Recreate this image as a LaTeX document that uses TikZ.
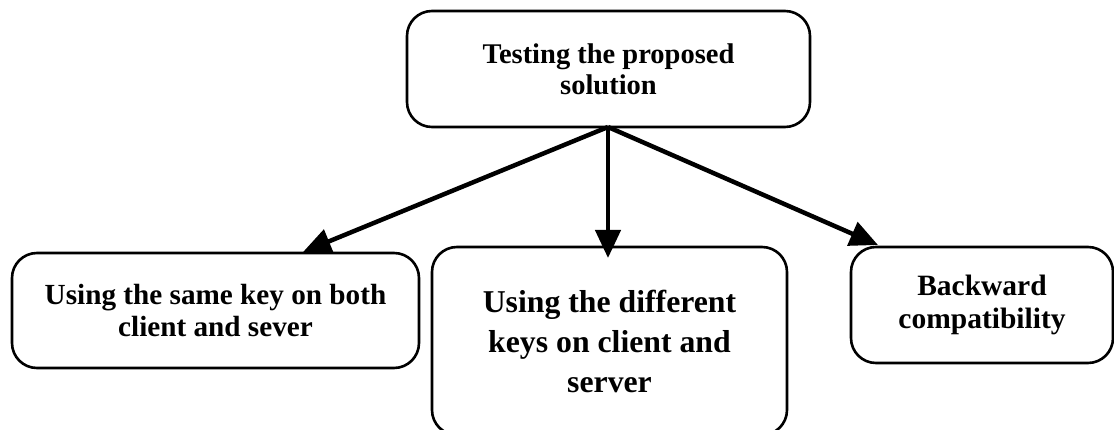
\documentclass[tikz,border=0pt]{standalone}
\usepackage{fontspec}
\setmainfont{Liberation Serif}
\usetikzlibrary{arrows.meta}
\tikzset{
  box/.style={draw=black, line width=2.6pt, rounded corners=25pt, fill=white,
              align=center, inner sep=0pt, font=\bfseries},
  link/.style={draw=black, line width=4.5pt,
               -{Triangle[length=28pt,width=25pt]}, shorten >=0pt}
}
\begin{document}
\begin{tikzpicture}[x=1pt,y=-1pt]
  \useasboundingbox (0,0) rectangle (1114,430);
  % root of the tree
  \node[box, minimum width=403pt, minimum height=116pt,
        font=\bfseries\fontsize{28.5}{31}\selectfont]
    (root) at (608.5,69) {Testing the proposed\\solution};
  % the three test branches
  \node[box, minimum width=407pt, minimum height=115pt,
        font=\bfseries\fontsize{29.2}{32}\selectfont]
    (same) at (215.5,310.5) {Using the same key on both\\client and sever};
  \node[box, minimum width=355pt, minimum height=188pt,
        font=\bfseries\fontsize{31.75}{40}\selectfont]
    (diff) at (609.5,341) {Using the different\\keys on client and\\server};
  \node[box, minimum width=262pt, minimum height=116pt,
        font=\bfseries\fontsize{29.5}{33}\selectfont]
    (back) at (982,305) {Backward\\compatibility};
  % arrow tips resting on the branch boxes
  \coordinate (tipSame) at (303,252);
  \coordinate (tipDiff) at (608,258);
  \coordinate (tipBack) at (878,245);
  \coordinate (fork) at (608,127);
  \draw[link] (fork) -- (tipSame);
  \draw[link] (fork) -- (tipDiff);
  \draw[link] (fork) -- (tipBack);
\end{tikzpicture}
\end{document}
